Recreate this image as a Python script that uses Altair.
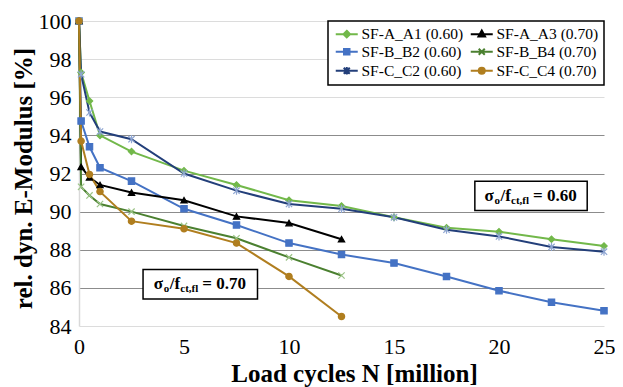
import altair as alt
import pandas as pd

SERIF = "Liberation Serif, Times New Roman, Tinos, DejaVu Serif, serif"

# ---------------- data ----------------
N_LONG = [0, 0.1, 0.5, 1, 2.5, 5, 7.5, 10, 12.5, 15, 17.5, 20, 22.5, 25]
N_SHORT = [0, 0.1, 0.5, 1, 2.5, 5, 7.5, 10, 12.5]

A1 = [100, 97.3, 95.8, 94.0, 93.15, 92.15, 91.4, 90.6, 90.3, 89.7, 89.15, 88.95, 88.55, 88.2]
B2 = [100, 94.75, 93.4, 92.3, 91.6, 90.15, 89.3, 88.35, 87.75, 87.3, 86.6, 85.85, 85.25, 84.8]
C2 = [100, 97.2, 95.2, 94.2, 93.8, 92.0, 91.1, 90.4, 90.15, 89.7, 89.05, 88.7, 88.15, 87.9]
A3 = [100, 92.35, 91.8, 91.4, 91.0, 90.6, 89.75, 89.4, 88.55]
B4 = [100, 91.3, 90.85, 90.4, 90.0, 89.25, 88.6, 87.6, 86.65]
C4 = [100, 93.7, 91.95, 91.05, 89.5, 89.1, 88.35, 86.6, 84.5]

# legend is filled column by column: col 1 = 0.60 series, col 2 = 0.70 series
SERIES = ["SF-A_A1 (0.60)", "SF-B_B2 (0.60)", "SF-C_C2 (0.60)",
          "SF-A_A3 (0.70)", "SF-B_B4 (0.70)", "SF-C_C4 (0.70)"]
SERIES_X = [N_LONG, N_LONG, N_LONG, N_SHORT, N_SHORT, N_SHORT]
SERIES_Y = [A1, B2, C2, A3, B4, C4]

Y_TICKS = [84, 86, 88, 90, 92, 94, 96, 98, 100]
X_TICKS = [0, 5, 10, 15, 20, 25]

# annotation boxes (data coordinates)
ANN_VAL = ["0.70", "0.60"]
BOX_X = [3.05, 18.85]
BOX_X2 = [8.5, 24.2]
BOX_Y = [86.97, 91.6]
BOX_Y2 = [85.41, 90.06]
TXT_X = [5.75, 21.5]
TXT_Y = [86.2, 90.83]

# ---------------- styles ----------------
LINE_COLORS = ["#72b84a", "#4472c4", "#233f7a", "#000000", "#4b8030", "#b07e1f"]
MARKER_STROKES = ["#72b84a", "#4472c4", "#8ea5d2", "#000000", "#9cc487", "#b07e1f"]
POINT_SHAPES = ["diamond", "square",
                "M-1,-1L1,1M-1,1L1,-1M0,-1.3V1.3",
                "triangle-up",
                "M-1,-1L1,1M-1,1L1,-1",
                "circle"]
LEGEND_PATHS = [
    "M-2,0H2M0,-0.6L0.6,0L0,0.6L-0.6,0Z",
    "M-2,0H2M-0.5,-0.5H0.5V0.5H-0.5Z",
    "M-2,0H2M-0.55,-0.55L0.55,0.55M-0.55,0.55L0.55,-0.55M0,-0.7V0.7",
    "M-2,0H2M0,-0.65L0.6,0.45L-0.6,0.45Z",
    "M-2,0H2M-0.55,-0.55L0.55,0.55M-0.55,0.55L0.55,-0.55",
    "M-2,0H2M0.55,0A0.55,0.55 0 1 1 -0.55,0A0.55,0.55 0 1 1 0.55,0Z",
]

rows = []
for name, xs, ys in zip(SERIES, SERIES_X, SERIES_Y):
    for xv, yv in zip(xs, ys):
        rows.append({"series": name, "N": xv, "E": yv})
df = pd.DataFrame(rows)

ann = pd.DataFrame({"x": BOX_X, "x2": BOX_X2, "y": BOX_Y, "y2": BOX_Y2,
                    "tx": TXT_X, "ty": TXT_Y, "val": ANN_VAL})

grid_color = {"condition": {"test": "datum.value >= 95 || datum.value <= 85",
                            "value": "#dcdcdc"},
              "value": "#8c8c8c"}

x_enc = alt.X("N:Q", scale=alt.Scale(domain=[0, 25], nice=False),
              axis=alt.Axis(values=X_TICKS, tickCount=20, title="Load cycles N [million]",
                            grid=False, ticks=False, domain=False,
                            labelFont=SERIF, labelFontSize=22, labelColor="black",
                            labelPadding=10, labelFlush=False, labelOverlap=False,
                            titleFont=SERIF, titleFontSize=25, titleFontWeight="bold",
                            titleColor="black", titleX=275, titleY=47,
                            titleBaseline="middle", titleAlign="center"))
y_enc = alt.Y("E:Q", scale=alt.Scale(domain=[84, 100], nice=False),
              axis=alt.Axis(values=Y_TICKS, tickCount=20, title="rel. dyn. E-Modulus [%]",
                            ticks=False, gridColor=grid_color, gridWidth=1,
                            domainColor="#d9d9d9", domainWidth=1.5,
                            labelFont=SERIF, labelFontSize=22, labelColor="black",
                            labelPadding=8, labelOverlap=False, labelFlush=False,
                            titleFont=SERIF, titleFontSize=25, titleFontWeight="bold",
                            titleColor="black", titleX=-56, titleY=157,
                            titleAngle=270, titleAlign="center",
                            titleBaseline="middle"))

base = alt.Chart(df)

lines = base.mark_line(strokeWidth=2).encode(
    x=x_enc, y=y_enc,
    color=alt.Color("series:N", scale=alt.Scale(domain=SERIES, range=LINE_COLORS),
                    legend=None),
)

points = base.mark_point(size=40, strokeWidth=1.2, opacity=1).encode(
    x="N:Q", y="E:Q",
    fill=alt.Fill("series:N", scale=alt.Scale(domain=SERIES, range=LINE_COLORS),
                  legend=None),
    stroke=alt.Stroke("series:N", scale=alt.Scale(domain=SERIES, range=MARKER_STROKES),
                      legend=None),
    shape=alt.Shape("series:N", scale=alt.Scale(domain=SERIES, range=POINT_SHAPES),
                    legend=None),
)

legend_layer = base.transform_filter("datum.N < 0").mark_point(strokeWidth=2, opacity=1).encode(
    x="N:Q", y="E:Q",
    fill=alt.Fill("series:N", scale=alt.Scale(domain=SERIES, range=LINE_COLORS),
                  legend=alt.Legend(title=None)),
    stroke=alt.Stroke("series:N", scale=alt.Scale(domain=SERIES, range=LINE_COLORS),
                      legend=alt.Legend(title=None)),
    shape=alt.Shape("series:N", scale=alt.Scale(domain=SERIES, range=LEGEND_PATHS),
                    legend=alt.Legend(title=None)),
)

boxes = alt.Chart(ann).mark_rect(fill="white", stroke="black", strokeWidth=1.5).encode(
    x="x:Q", x2="x2:Q", y="y:Q", y2="y2:Q")


def piece(text, dx, dy, size):
    return alt.Chart(ann).mark_text(
        align="left", baseline="middle", dx=dx, dy=dy, font=SERIF,
        fontWeight="bold", fontSize=size, color="black").encode(
        x="tx:Q", y="ty:Q", text=text)


t1 = piece(alt.value("σ"), -46, 0, 17)
t2 = piece(alt.value("o"), -36, 5, 11)
t3 = piece(alt.value("/f"), -30, 0, 17)
t4 = piece(alt.value("ct,fl"), -19.5, 5, 11)
t5 = alt.Chart(ann).transform_calculate(lab="'= ' + datum.val").mark_text(
    align="left", baseline="middle", dx=2.5, font=SERIF, fontWeight="bold",
    fontSize=17, color="black").encode(x="tx:Q", y="ty:Q", text="lab:N")

chart = alt.layer(lines, points, legend_layer, boxes, t1, t2, t3, t4, t5).resolve_scale(
    fill="independent", stroke="independent", shape="independent"
).properties(
    width=525, height=305,
    autosize=alt.AutoSizeParams(type="none"),
    padding={"left": 71, "top": 13, "right": 11, "bottom": 62},
).configure_view(stroke=None).configure_legend(
    orient="top-right", offset=0, columns=2, columnPadding=2, rowPadding=1,
    labelFont=SERIF, labelFontSize=15.5, labelColor="black", labelOffset=7,
    symbolSize=121, symbolOffset=6, symbolStrokeWidth=2,
    strokeColor="black", strokeWidth=1.5, fillColor="white", padding=5,
    cornerRadius=0,
)

chart.save("out.html", embed_options={"renderer": "svg", "actions": False})
